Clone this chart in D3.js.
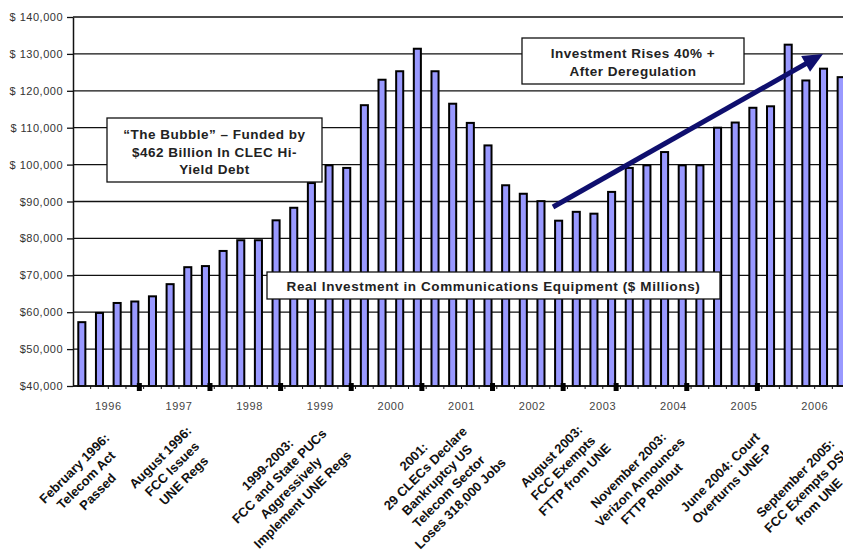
<!DOCTYPE html>
<html>
<head>
<meta charset="utf-8">
<script src="https://cdn.jsdelivr.net/npm/d3@7"></script>
<style>
  html, body { margin: 0; padding: 0; background: #fff; }
  svg { display: block; font-family: Arial, "Liberation Sans", sans-serif; }
</style>
</head>
<body>
<svg id="chart" width="843" height="556"></svg>
<script>
// Real investment in communications equipment, quarterly, $ millions
const years = [1996, 1997, 1998, 1999, 2000, 2001, 2002, 2003, 2004, 2005, 2006];
const quarters = ["Q1", "Q2", "Q3", "Q4"];
const investment = [
  57300, 59800, 62500, 62900,
  64300, 67600, 72200, 72500,
  76600, 79500, 79500, 84900,
  88300, 95000, 99800, 99100,
  116100, 123000, 125300, 131400,
  125300, 116500, 111300, 105200,
  94400, 92100, 90100, 84800,
  87200, 86700, 92600, 99100,
  99800, 103400, 99800, 99800,
  110000, 111400, 115400, 115800,
  132500, 122800, 126000, 123700
];
const yTicks = [40000, 50000, 60000, 70000, 80000, 90000, 100000, 110000, 120000, 130000, 140000];
// quarters followed by a year-end marker on the category axis
const yearMarkers = ["1996 Q4", "1997 Q4", "1998 Q4", "1999 Q4", "2000 Q4", "2001 Q4", "2002 Q4", "2003 Q3", "2004 Q3", "2005 Q3"];

const seriesTitle = "Real Investment in Communications Equipment  ($ Millions)";
const bubbleNote = ["\u201CThe Bubble\u201D \u2013 Funded by", "$462 Billion In CLEC Hi-", "Yield Debt"];
const riseNote = ["Investment Rises 40% +", "After Deregulation"];
const eventNotes = [
  ["February 1996:", "Telecom Act", "Passed"],
  ["August 1996:", "FCC Issues", "UNE Regs"],
  ["1999-2003:", "FCC and State PUCs", "Aggressively", "Implement UNE Regs"],
  ["2001:", "29 CLECs Declare", "Bankruptcy US", "Telecom Sector", "Loses 318,000 Jobs"],
  ["August 2003:", "FCC Exempts", "FTTP from UNE"],
  ["November 2003:", "Verizon Announces", "FTTP Rollout"],
  ["June 2004: Court", "Overturns UNE-P"],
  ["September 2005:", "FCC Exempts DSL", "from UNE"]
];

const categories = years.flatMap(y => quarters.map(q => `${y} ${q}`));
const data = categories.map((c, i) => ({ cat: c, value: investment[i] }));

const W = 843, H = 556;
const plot = { left: 73, top: 17, bottom: 386, right: 850 };

const svg = d3.select("#chart");

const x = d3.scaleBand()
  .domain(categories)
  .range([plot.left, plot.right])
  .paddingInner(0.6)
  .paddingOuter(0.3);
const step = x.step();

const y = d3.scaleLinear()
  .domain([40000, 140000])
  .range([plot.bottom, plot.top]);

// horizontal gridlines
svg.append("g")
  .selectAll("line")
  .data(yTicks)
  .join("line")
  .attr("x1", plot.left).attr("x2", W)
  .attr("y1", d => y(d)).attr("y2", d => y(d))
  .attr("stroke", "#111")
  .attr("stroke-width", 1.3);

// value axis
const fmt = d3.format(",");
const yAxis = svg.append("g")
  .attr("transform", `translate(${plot.left},0)`)
  .call(d3.axisLeft(y)
    .tickValues(yTicks)
    .tickSize(6)
    .tickSizeOuter(0)
    .tickPadding(4)
    .tickFormat(d => (d >= 100000 ? "$ " : "$") + fmt(d)));
yAxis.select(".domain").attr("stroke", "#111").attr("stroke-width", 1.5);
yAxis.selectAll(".tick line").attr("stroke", "#111").attr("stroke-width", 1.3);
yAxis.selectAll(".tick text")
  .attr("font-size", 11)
  .attr("letter-spacing", 0.5)
  .attr("fill", "#333");
yAxis.attr("font-family", null);

// bars
svg.append("g")
  .selectAll("rect")
  .data(data)
  .join("rect")
  .attr("x", d => x(d.cat))
  .attr("y", d => y(d.value))
  .attr("width", x.bandwidth())
  .attr("height", d => y(40000) - y(d.value))
  .attr("fill", "#9999ff")
  .attr("stroke", "#000")
  .attr("stroke-width", 2);

// category axis baseline and small ticks between quarters
svg.append("line")
  .attr("x1", plot.left).attr("x2", W)
  .attr("y1", plot.bottom).attr("y2", plot.bottom)
  .attr("stroke", "#111").attr("stroke-width", 1.5);
svg.append("g")
  .selectAll("line")
  .data(d3.range(1, categories.length + 1))
  .join("line")
  .attr("x1", i => plot.left + i * step)
  .attr("x2", i => plot.left + i * step)
  .attr("y1", plot.bottom).attr("y2", plot.bottom + 3)
  .attr("stroke", "#111").attr("stroke-width", 1);

// year-end markers
svg.append("g")
  .selectAll("rect")
  .data(yearMarkers)
  .join("rect")
  .attr("x", c => x(c) + x.bandwidth() - 1.5)
  .attr("y", plot.bottom - 3)
  .attr("width", 5)
  .attr("height", 8)
  .attr("fill", "#000");

// year labels centred under each year's quarters
svg.append("g")
  .selectAll("text")
  .data(years)
  .join("text")
  .attr("x", yr => {
    const first = x(`${yr} Q1`), last = x(`${yr} Q4`);
    return (first + last + x.bandwidth()) / 2;
  })
  .attr("y", 410)
  .attr("text-anchor", "middle")
  .attr("font-size", 11)
  .attr("letter-spacing", 0.6)
  .attr("fill", "#444")
  .text(yr => yr);

// text boxes
function noteBox(bx, by, bw, bh, lines, baseline, lineH, size, spacing) {
  const g = svg.append("g");
  g.append("rect")
    .attr("x", bx).attr("y", by).attr("width", bw).attr("height", bh)
    .attr("fill", "#fff").attr("stroke", "#111").attr("stroke-width", 1.3);
  g.append("g").selectAll("text")
    .data(lines)
    .join("text")
    .attr("x", bx + bw / 2)
    .attr("y", (d, i) => baseline + i * lineH)
    .attr("text-anchor", "middle")
    .attr("font-size", size)
    .attr("font-weight", "bold")
    .attr("letter-spacing", spacing)
    .attr("fill", "#222")
    .text(d => d);
}

noteBox(107, 118, 215, 64, bubbleNote, 139, 17.5, 13.5, 0.5);
noteBox(267, 272, 453, 27, [seriesTitle], 291, 0, 13.5, 0.6);

// trend arrow
const a0 = [553, 207], a1 = [823, 54];
const dx = a1[0] - a0[0], dy = a1[1] - a0[1];
const len = Math.hypot(dx, dy);
const ux = dx / len, uy = dy / len;
const headL = 20, headW = 9;
const hb = [a1[0] - ux * headL, a1[1] - uy * headL];
svg.append("line")
  .attr("x1", a0[0]).attr("y1", a0[1])
  .attr("x2", hb[0] + ux * 2).attr("y2", hb[1] + uy * 2)
  .attr("stroke", "#0f0f6e").attr("stroke-width", 5);
svg.append("path")
  .attr("d", d3.line()([
    a1,
    [hb[0] - uy * headW, hb[1] + ux * headW],
    [hb[0] + uy * headW, hb[1] - ux * headW]
  ]) + "Z")
  .attr("fill", "#0f0f6e");

noteBox(522, 38, 222, 46, riseNote, 58, 18, 13.5, 0.5);

// event notes, rotated beneath the axis
const eventAnchors = [
  [86, 480], [172, 469], [285, 482], [437, 480],
  [563, 468], [640, 482], [726, 478], [807, 490]
];
const lh = 16.5;
eventNotes.forEach((lines, k) => {
  const [cx, cy] = eventAnchors[k];
  const g = svg.append("g")
    .attr("transform", `translate(${cx},${cy}) rotate(-45)`);
  g.selectAll("text")
    .data(lines)
    .join("text")
    .attr("x", 0)
    .attr("y", (d, i) => (i - (lines.length - 1) / 2) * lh + 4.5)
    .attr("text-anchor", "middle")
    .attr("font-size", 13)
    .attr("font-weight", "bold")
    .attr("fill", "#111")
    .text(d => d);
});
</script>
</body>
</html>
